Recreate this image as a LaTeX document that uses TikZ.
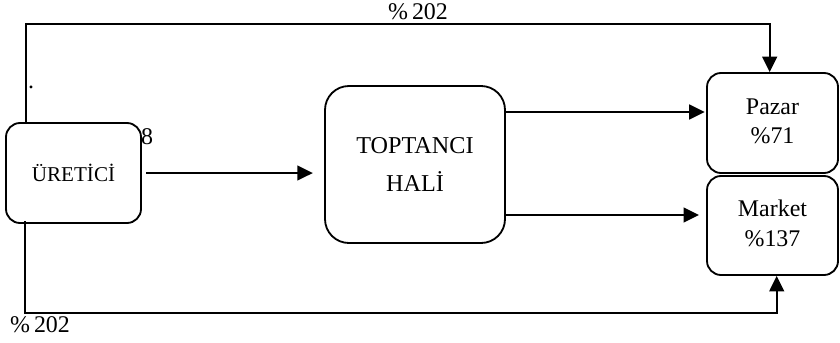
\documentclass[tikz,border=0pt]{standalone}
\usepackage{fontspec}
\setmainfont{Liberation Serif}
\usetikzlibrary{arrows.meta}

\begin{document}
\begin{tikzpicture}[x=0.025cm, y=-0.025cm,
    box/.style={draw, line width=1.3pt, rounded corners=10pt, align=center,
        font=\fontsize{15}{19}\selectfont},
    arr/.style={line width=1.5pt, -{Triangle[length=11pt, width=10.5pt]}},
    lbl/.style={font=\fontsize{17}{20}\selectfont, inner sep=0pt}]
    \useasboundingbox (0,0) rectangle (840,342);

    % Boxes
    \node[box, minimum width=135*0.025cm, minimum height=100*0.025cm] (uretici) at (73.5,173) {ÜRETİCİ};
    \node[box, rounded corners=17pt, font=\fontsize{17.2}{27}\selectfont,
        minimum width=180*0.025cm, minimum height=157*0.025cm] (toptanci) at (415,164.5) {TOPTANCI\\HALİ};
    \node[box, font=\fontsize{17}{21}\selectfont,
        minimum width=131*0.025cm, minimum height=100*0.025cm] (pazar) at (772.5,123)
        {\raisebox{4pt}{\begin{tabular}{@{}c@{}}Pazar\\\%71\end{tabular}}};
    \node[box, font=\fontsize{17}{21}\selectfont,
        minimum width=131*0.025cm, minimum height=99*0.025cm] (market) at (772.5,225.5)
        {\raisebox{5pt}{\begin{tabular}{@{}c@{}}Market\\\%137\end{tabular}}};

    % Helper points
    \coordinate (topleft) at (26,24);
    \coordinate (botleft) at (25,313);
    \coordinate (uppath) at (0,112);
    \coordinate (lowpath) at (0,215);

    % Connectors
    \draw[arr, shorten <=3pt, shorten >=8pt] (uretici.east) -- (uretici.east -| toptanci.west);
    \draw[arr, shorten >=1pt] (toptanci.east |- uppath) -- (pazar.west |- uppath);
    \draw[arr, shorten >=5pt] (toptanci.east |- lowpath) -- (market.west |- lowpath);
    \draw[arr] (uretici.north -| topleft) -- (topleft) -| ([xshift=-2pt]pazar.north);
    \draw[arr] ([yshift=2pt]uretici.south -| botleft) -- (botleft) -| ([xshift=3pt]market.south);

    % Labels
    \node[lbl] (ustoran) at (418,12) {\%\,202};
    \node[lbl] (altoran) at (40,325) {\%\,202};
    \node[lbl] (sekiz) at (147,137) {8};
    \node[lbl] (nokta) at (31,87) {.};
\end{tikzpicture}
\end{document}
